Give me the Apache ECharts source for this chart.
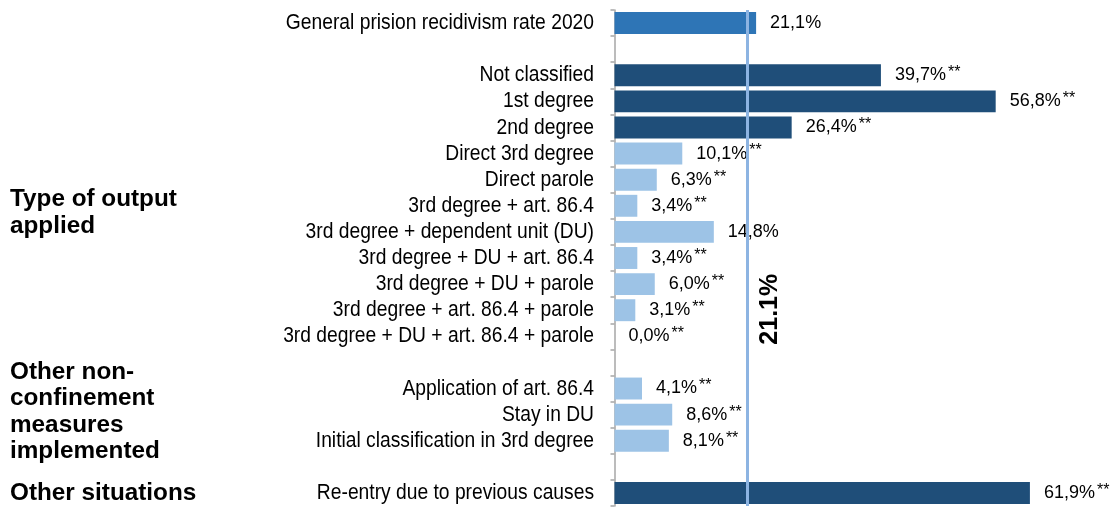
<!DOCTYPE html>
<html>
<head>
<meta charset="utf-8">
<script src="https://cdn.jsdelivr.net/npm/echarts@6/dist/echarts.min.js"></script>
<style>html,body{margin:0;padding:0;background:#fff;}#c{width:1114px;height:508px;}</style>
</head>
<body>
<div id="c"></div>
<script>
var categories = [
  'General prision recidivism rate 2020', ' ',
  'Not classified', '1st degree', '2nd degree', 'Direct 3rd degree', 'Direct parole',
  '3rd degree + art. 86.4', '3rd degree + dependent unit (DU)', '3rd degree + DU + art. 86.4',
  '3rd degree + DU + parole', '3rd degree + art. 86.4 + parole', '3rd degree + DU + art. 86.4 + parole',
  '  ',
  'Application of art. 86.4', 'Stay in DU', 'Initial classification in 3rd degree',
  '   ',
  'Re-entry due to previous causes'
];
var values = [21.1, null, 39.7, 56.8, 26.4, 10.1, 6.3, 3.4, 14.8, 3.4, 6.0, 3.1, 0.0, null, 4.1, 8.6, 8.1, null, 61.9];
var significant = [0, 0, 1, 1, 1, 1, 1, 1, 0, 1, 1, 1, 1, 0, 1, 1, 1, 0, 1];
var barTone = ['mid', '', 'dark', 'dark', 'dark', 'light', 'light', 'light', 'light', 'light', 'light', 'light', 'light', '', 'light', 'light', 'light', '', 'dark'];
var referenceLineValue = 19.8;
var referenceLineLabel = '21.1%';
var groupLabels = [
  { text: 'Type of output\napplied', row: 7, dy: 7 },
  { text: 'Other non-\nconfinement\nmeasures\nimplemented', row: 15, dy: -3 },
  { text: 'Other situations', row: 18, dy: 0.5 }
];

var toneColor = { mid: '#2E75B6', dark: '#1F4E79', light: '#9DC3E6' };

var seriesData = values.map(function (v, i) {
  if (v === null) return null;
  return { value: v, itemStyle: { color: toneColor[barTone[i]] } };
});

var chart = echarts.init(document.getElementById('c'), null, { renderer: 'canvas' });
var pxPerUnit = 6.711;
var xMax = 70;
chart.setOption({
  animation: false,
  backgroundColor: '#fff',
  grid: { left: 614.5, top: 10, width: xMax * pxPerUnit, height: 496, containLabel: false },
  xAxis: {
    type: 'value', min: 0, max: xMax, show: false
  },
  yAxis: {
    type: 'category', data: categories, inverse: true,
    axisLine: { show: true, lineStyle: { color: '#A6A6A6', width: 1.5 } },
    axisTick: { show: true, length: 4, lineStyle: { color: '#A6A6A6', width: 1.5 } },
    axisLabel: { show: false },
    splitLine: { show: false }
  },
  series: [{
    type: 'bar',
    data: seriesData,
    barCategoryGap: '16%',
    label: {
      show: true, position: 'right', distance: 14,
      formatter: function (p) {
        var s = p.value.toFixed(1).replace('.', ',') + '%';
        return significant[p.dataIndex] ? '{v|' + s + '}{s|**}' : '{v|' + s + '}';
      },
      rich: {
        v: { fontSize: 18, color: '#000', fontFamily: '"Liberation Sans", Arial, sans-serif' },
        s: { fontSize: 16, color: '#000', fontFamily: '"Liberation Sans", Arial, sans-serif', padding: [0, 0, 5, 2] }
      }
    },
    markLine: {
      silent: true, symbol: ['none', 'none'],
      label: { show: false },
      lineStyle: { color: '#8DB4E2', width: 3, type: 'solid' },
      data: [{ xAxis: referenceLineValue }]
    }
  }]
});

var graphics = [];
var axisLeft = chart.convertToPixel({ xAxisIndex: 0 }, 0);
categories.forEach(function (c) {
  if (!c.trim()) return;
  var y = chart.convertToPixel({ yAxisIndex: 0 }, c);
  graphics.push({
    type: 'text', x: axisLeft - 20.5, y: y, scaleX: 0.875,
    style: { text: c, font: '22px "Liberation Sans", Arial, sans-serif', fill: '#000', align: 'right', verticalAlign: 'middle' }
  });
});
var lineX = chart.convertToPixel({ xAxisIndex: 0 }, referenceLineValue);
var midY = chart.convertToPixel({ yAxisIndex: 0 }, categories[11]);
graphics.push({
  type: 'text', x: lineX + 23, y: midY - 1, rotation: Math.PI / 2,
  style: { text: referenceLineLabel, font: 'bold 25px "Liberation Sans", Arial, sans-serif', fill: '#000', align: 'center', verticalAlign: 'middle' }
});
groupLabels.forEach(function (g) {
  var y = chart.convertToPixel({ yAxisIndex: 0 }, categories[g.row]);
  graphics.push({
    type: 'text', x: 10, y: y + g.dy,
    style: { text: g.text, font: 'bold 24.3px "Liberation Sans", Arial, sans-serif', fill: '#000', align: 'left', verticalAlign: 'middle', lineHeight: 26.5 }
  });
});
chart.setOption({ graphic: graphics });
</script>
</body>
</html>
